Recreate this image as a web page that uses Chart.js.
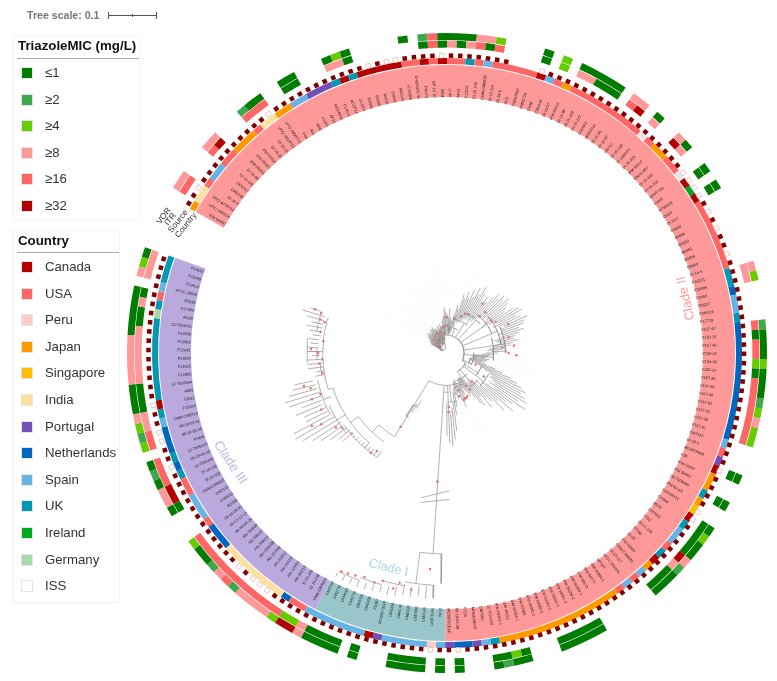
<!DOCTYPE html>
<html>
<head>
<meta charset="utf-8">
<title>Triazole MIC tree</title>
<script src="https://cdn.jsdelivr.net/npm/chart.js@4/dist/chart.umd.min.js"></script>
<style>
  html, body { margin: 0; padding: 0; background: #fff; }
  body { width: 777px; height: 681px; position: relative; overflow: hidden; font-family: "Liberation Sans", Arial, sans-serif; color: #333; }
  canvas { position: absolute; }
  #rings { left: 126px; top: 32px; }
  #tree { left: 0; top: 0; }
  .scale { position: absolute; left: 27px; top: 9px; font-size: 10.6px; font-weight: bold; color: #777; }
  .scalebar { position: absolute; left: 108px; top: 15px; width: 49px; height: 1px; background: #555; }
  .scalebar i { position: absolute; top: -3px; width: 1px; height: 7px; background: #555; }
  .legend { position: absolute; left: 13px; border: 1px solid #f4f4f4; box-sizing: border-box; }
  .legend h3 { margin: 0; position: absolute; left: 4px; font-size: 13.3px; font-weight: bold; color: #111; white-space: nowrap; }
  .legend hr { position: absolute; left: 3px; margin: 0; border: 0; height: 1px; background: #aaa; }
  .row { position: absolute; left: 31px; font-size: 13.2px; line-height: 16px; white-space: nowrap; }
  .row b { position: absolute; left: -23px; top: 3px; width: 10px; height: 10px; box-shadow: 0 0 0 1px #e4e4e4; }
</style>
</head>
<body>
<canvas id="rings" width="642" height="642"></canvas>
<canvas id="tree" width="777" height="681"></canvas>
<div class="scale">Tree scale: 0.1</div>
<div class="scalebar"><i style="left:0"></i><i style="left:24px;top:-1px;height:3px"></i><i style="left:48px"></i></div>
<div class="legend" id="micLegend" style="top:35px;width:127px;height:186px"></div>
<div class="legend" id="countryLegend" style="top:230px;width:107px;height:373px"></div>
<script>
const _ = null;
const leafCount = 196;

const micLabels = ['≤1', '≥2', '≥4', '≥8', '≥16', '≥32'];
const micValues = [1, 2, 4, 8, 16, 32];
const micColors = ['#007d00', '#3ea84a', '#66cc00', '#ff9999', '#ff6666', '#b30000'];

const countries = ['Canada', 'USA', 'Peru', 'Japan', 'Singapore', 'India', 'Portugal', 'Netherlands', 'Spain', 'UK', 'Ireland', 'Germany', 'ISS'];
const countryColors = ['#b30000', '#ff6666', '#ffcccc', '#ff9900', '#ffbf00', '#ffe0a0', '#7151b5', '#0066bf', '#66b3e6', '#0099b3', '#00aa22', '#a8d8a8', '#e8e8e8'];

const cladeRuns = [['Clade II', 135], ['Clade I', 15], ['Clade III', 46]];
const cladeColors = { 'Clade II': '#ff9999', 'Clade I': '#99c6cb', 'Clade III': '#b9a9dc' };

const countryRuns = [
  ['Japan',1],['India',2],['USA',1],['Spain',2],['USA',2],['Japan',3],['USA',1],['India',2],['Japan',2],['Spain',2],
  ['Portugal',3],['UK',1],['Canada',1],['UK',1],['Canada',5],['USA',2],['Canada',1],['USA',1],['Canada',1],['USA',2],
  ['UK',1],['USA',1],['Spain',1],['USA',5],['Canada',1],['Spain',1],['USA',1],['Japan',1],['USA',9],['ISS',1],
  ['USA',1],['Japan',2],['USA',2],['ISS',1],['Canada',1],['Ireland',1],['Canada',1],['USA',8],['UK',2],['Netherlands',1],
  ['Spain',2],['UK',1],['Netherlands',13],['Spain',1],['USA',1],['Portugal',1],['Canada',1],['Japan',2],['UK',1],['Japan',1],
  ['Singapore',1],['Canada',1],['UK',1],['Spain',2],['USA',1],['UK',1],['Canada',1],['Japan',1],['Spain',1],['USA',1],
  ['Spain',1],['USA',1],['Japan',14],['UK',1],['Spain',1],['Portugal',1],['Netherlands',2],['Portugal',1],['Spain',1],['Peru',1],
  ['Spain',5],['Portugal',1],['Canada',1],['Spain',7],['USA',2],['Netherlands',1],['India',8],['Netherlands',3],['USA',1],['Spain',3],
  ['USA',2],['UK',1],['Netherlands',1],['UK',1],['Netherlands',3],['Spain',1],['UK',1],['Canada',1],['UK',9],['Germany',1],
  ['UK',1],['USA',1],['Spain',1],['UK',3]
];

const vorMic = [
  _,8,8,_,_,_,8,8,_,_,
  _,2,1,1,_,_,1,1,_,_,
  _,1,4,1,_,_,_,_,_,1,
  _,2,16,1,1,1,1,8,8,4,
  _,_,_,_,1,_,4,_,1,1,
  1,1,1,_,8,8,_,1,_,_,
  8,1,_,_,1,_,1,_,_,_,
  _,_,_,_,_,8,4,_,_,_,
  _,2,1,1,1,4,1,1,1,2,
  4,8,4,4,_,_,_,1,_,_,
  1,_,_,1,4,1,1,8,2,1,
  1,1,_,_,_,_,_,_,1,1,
  1,1,1,_,_,_,1,1,2,1,
  _,_,_,1,_,1,_,1,1,1,
  1,_,_,_,1,_,1,1,1,1,
  8,32,32,4,8,8,8,8,2,16,
  8,2,1,1,4,_,_,_,1,8,
  8,1,2,1,_,4,2,4,8,1,
  1,1,8,8,8,8,8,1,1,1,
  1,1,_,8,4,1
];
const itrMic = [
  _,16,16,_,_,_,16,32,_,_,
  _,16,16,16,_,_,1,1,_,_,
  _,8,8,1,_,_,_,_,_,_,
  _,1,16,1,8,1,8,16,1,16,
  _,_,_,_,1,_,4,_,8,8,
  1,1,1,_,16,32,_,8,_,_,
  32,8,_,_,1,_,1,_,_,_,
  _,_,_,_,_,8,8,_,_,_,
  _,16,1,16,16,4,1,16,16,16,
  16,16,16,16,_,_,_,1,_,_,
  1,_,_,1,1,1,1,32,8,1,
  1,1,_,_,_,_,_,_,1,1,
  1,1,1,_,_,_,1,4,1,1,
  _,_,_,1,_,1,_,1,1,1,
  1,_,_,_,1,_,1,1,1,1,
  8,4,4,16,16,16,16,16,16,16,
  16,16,16,16,16,_,_,_,1,32,
  32,16,16,16,_,16,16,8,8,1,
  1,1,8,8,8,8,8,8,1,1,
  8,1,_,8,8,8
];

const sourceMissing = [42, 43, 44];
const sourceOpen = [3, 14, 26, 28, 29, 34, 45, 64, 65, 66, 67, 69, 71, 74, 98, 103, 104, 134, 137, 156, 157, 158, 160, 173, 176, 177, 180];

const leafLabels = [
  'IFM 59360','VPCI 180/224','VPCI 407/P/12','DI 16-9','CM5248','CM5757','DI 15-106','DI 15-98','IFM 59353','IFM 59355',
  'IFM 50318','DI 15-22','DI 15-31','VPCI 481/P/13','VPCI 480/P/13','Pd4','Af4','Af99','A1163','AF10',
  'MO54056','F14512','ACCP14','21J2F4','B1566','B1568','B5558','D6066','AL5006','IC19966',
  'D-6053/91-W','PKU73','BP-1C IO','0604','AF77','AF41','F11019','DI 15-130','CNM-CM8689','DI 15-114',
  'DI 34-8','SC5','TN55J5Sd','KN55T26','CK98','CM4448','DI 15-97','IFM 61610','DI 15-99','DI 15-129',
  'DI 15-127','CM7602','MO58722','DI 15-98','DI 15-97','Afu 50','DI 15-130','IF 1206-F4','DI 15-103','IFM 60514',
  'IFM 61407','DI 15-100','DI 15-101','NIH/T-011','CM65','AF90328','CM23','DI 16-7','B5863','B5864',
  'B5869','B5862','B5866','B5860','DI 16-5','F16221','F28085','P2465','CM237','CM6126',
  'F17729','V157-47','V130-15','V157-40','V130-04','V130-18','V130-14','V157-39','V157-80','V157-46',
  'V157-60','V157-62','V157-58','V157-61','CM7510','DI 15-6','MO5029850','P90','IFM 59056','IFM 58402',
  '08-7505898','IFM 62115','SGH08712','CY564','85/93','CM7632','TF52','05-21-105','TT763','15-33',
  'IFM 62916','CNM-CM8680','10-15-117','ATCC 204305','MF367','IFM 59056-1','IFM 59777','IFM 59573','IFM 59359-1','IFM 59359-2',
  'IFM 59361-2','IFM 59361-1','IFM 59362-2','IFM 59362-1','IFM 59360-2','IFM 59365','IFM 59363-1','IFM 49212','IFM 59364-1','12-7504062',
  'CM7580','MO6496EXP','P229','08-19-02-30','MOS6592EXP','TF53','LMS 35A4','CM4146','CM7586','CM2393',
  'CM4145','CM5395','MO5997/EXP','F5387','CM5498','CM3720','CM3726','CM4690','CM2733','CM2720',
  'CNM-CM8653','DI 15-108','SI 15-106','Afu 602/13','Afu 124/03','Afu 166/07','Afu 218/12','Afu 257/09','Afu 1042/08','Afu 584/12',
  'Afu 591/12','Afu 343/09','08-36-03-25','08-12-12-13','08-32-08-91','B5559','CM5419','CM2141','CNM-CM8652','DI 15-102',
  'DI 15-116','12-7505446','08-19-02-30','12-7505220','P3446','08-19-02-46','08-19-02-61','CNM-CM8714','F16216','CM21',
  'A865','12-7505054','F12805','F13535','F11628','F12041','F12892','F13036','12-7504652','Afs35',
  'F17582','B5233','ATCC 46645','F13619','F15295','F14532'
];

// branch depth of each tip, in distance from the tree centre
const tipFrom = [
  4,5,6,5,7,6,8,9,8,10, 9,11,8,12,10,11,9,13,10,9, 12,10,8,13,11,9,14,12,10,14,
  16,18,20,19,17,20,22,19,18,20, 22,28,26,34,32,36,33,38,36,40, 38,42,40,36,42,40,46,50,48,52,
  50,54,52,48,44,52,56,60,54,60, 64,60,60,56,60,58,50,52,54,50, 48,44,42,46,40,36,30,28,26,28,
  26,25,24,26,30,34,38,42,48,52, 50,54,58,52,60,50,46,54,42,48, 40,36,42,34,38,36,32,30,30,28,
  28,30,34,36,32,28,30,30,36,40, 50,56,62,60,52,
  204,236,237,238,240,238,242,244,245,246,247,247,248,248,249,
  55,60,62,120,121,122,122,123,123,124,124,125,128,125,126,128,128,130,130,134,
  134,134,136,135,134,134,136,136,138,125,124,125,126,128,128,128,130,130,130,128,
  128,128,128,128,128,134
];
const tipTo = [
  18,17,20,19,22,21,25,24,28,26, 25,27,24,28,26,29,27,30,27,25, 28,26,24,29,27,25,30,28,26,32,
  34,38,46,42,40,36,45,37,35,33, 40,50,46,62,58,66,60,70,63,74, 68,78,72,64,70,66,74,80,76,82,
  78,84,80,76,72,82,86,88,80,84, 90,86,84,78,82,76,72,70,74,68, 66,60,56,62,52,48,44,42,40,44,
  42,40,38,42,52,60,70,78,84,90, 86,92,96,88,98,84,78,90,72,82, 68,60,72,56,66,62,54,48,50,44,
  40,46,52,58,50,42,48,44,56,64, 80,88,95,92,84,
  234,249,250,248,250,250,252,253,252,253,254,254,254,254,253,
  64,70,76,127,127,127,127,127,127,127,127,127,137,140,147,155,162,170,176,175,
  158,158,165,156,168,171,165,160,157,135,133,141,141,141,136,138,141,138,141,136,
  140,144,140,146,152,145
];

// inner arcs: depth, first leaf, last leaf
const treeArcs = [
  [4,1,30],[8,4,20],[14,15,35],[18,49,100],[18,30,49],[26,36,49],[35,41,55],[45,50,62],[50,56,72],[56,62,80],[60,70,85],
  [48,75,90],[28,85,100],[25,92,100],[22,100,118],[38,96,106],[48,100,110],[42,108,116],[30,110,125],[36,118,128],[50,128,135],
  [33,118,153],[40,133,137],[60,132,135],
  [204,136,139.5],[236,137,141],[240,141,144],[244,144,147],[247,147,150],
  [62,151,153],[76,152,153.5],[100,153.3,159.4],[110,155,165.5],[120,158,176],[127,154,166],[125,176,195],[130,164,172],[133,170,179],
  [141,183.4,189],[128,180,183],[133,191,196],[131,184,187]
];
// stems: leaf, inner depth, outer depth
const treeStems = [
  [45,18,26],[52,18,35],[58,18,45],[65,18,50],[72,18,56],[80,18,60],[88,18,48],[98,18,28],[100,18,22],[103,22,38],[106,22,48],
  [113,22,42],[118,22,33],[123,33,36],[132,33,50],[134,33,60],[30,4,18],[137.4,33,204],[139.5,204,236],
  [153,33,100],[153.5,62,76],[159.4,100,110],[165.5,110,120],[158,120,127],[176,120,125],[168,120,130],[174,125,133],[186,125,141]
];
// two short slanted marks on the long stem: leaf, depth, leaf, depth
const breakMarks = [[140.7,149,134.6,140],[140.7,154,134.6,148.7]];
// support dots: leaf, depth
const treeNodes = [
  [5,8],[8,14],[10,18],[12,12],[14,16],[16,20],[18,13],[20,22],[22,17],[24,10],[26,22],[28,15],[30,26],[32,20],[33,27],[36,28],[38,24],
  [3,6],[7,11],[11,9],[15,13],[19,16],[23,20],[27,18],
  [41.8,36],[35,36],[47,40],[49,44],[51,45],[55,62],[59,57],[58,50],[65,56],[67,59],[71,69],[77,65],[82,57],[81.5,69],[85,63],[86,71],
  [97,32],[103,45],[112,39],[118,39],[117,44],[124,51],[122,50],[123,50],[121,49],[126,46],[125,40],[133.7,55],[134,60],[137.5,131],
  [153,88],[156,127],[155,122],[163,126],[165.6,130],[166.6,135],[169,146],[169.7,155],[172,139],[175,144],[175.5,134],[177.5,142],[178.3,148],
  [180.5,127],[183,129],[184,126],[185.6,130],[186.6,137],[188.7,125],[191,129],[193.6,127],[194,132],[195.6,133],[196,140],
  [137.7,220],[141.7,238],[142.4,245],[140,243],[144,240],[145,244],[146.5,242],[147.7,244],[148.7,245],[149.6,246]
];

const cladeNames = [
  { text: 'Clade II', leaf: 77.7, r: 249, rot: -103, size: 13, color: '#ff9999' },
  { text: 'Clade I', leaf: 143.7, r: 226, rot: 14, size: 12.8, color: '#a8dbe4' },
  { text: 'Clade III', leaf: 170.6, r: 245.5, rot: 56, size: 13.2, color: '#c3b6e6' }
];
const ringNames = [
  { text: 'VOR', r: 316, leaf: -0.5 },
  { text: 'ITR', r: 309, leaf: -0.73 },
  { text: 'Source', r: 300, leaf: 0.16 },
  { text: 'Country', r: 291, leaf: 0.33 }
];

const startAngle = 299.3;
const sweep = 350;
const step = sweep / leafCount;
const leafAngle = leaf => startAngle + (leaf - 0.5) * step;

function polar(leaf, depth) {
  const a = leafAngle(leaf) * Math.PI / 180;
  return { x: depth * Math.sin(a), y: depth * Math.cos(a) };
}

// ---- rings ----
function micColor(v) { return v === null ? 'rgba(0,0,0,0)' : micColors[micValues.indexOf(v)]; }

function runsFromLeaves(values, colorOf) {
  const data = [], colors = [];
  values.forEach(v => {
    const c = colorOf(v);
    if (colors.length && colors[colors.length - 1] === c) data[data.length - 1]++;
    else { data.push(1); colors.push(c); }
  });
  return { data, backgroundColor: colors };
}

function ring(weight, built) {
  return { weight, borderWidth: 0, data: built.data, backgroundColor: built.backgroundColor };
}

function spacer(weight) {
  return { weight, borderWidth: 0, data: [1], backgroundColor: ['rgba(0,0,0,0)'] };
}

new Chart(document.getElementById('rings'), {
  type: 'doughnut',
  data: {
    datasets: [
      spacer(1),
      ring(7, runsFromLeaves(vorMic, micColor)),
      spacer(0.6),
      ring(7, runsFromLeaves(itrMic, micColor)),
      spacer(10.4),
      ring(6, {
        data: countryRuns.map(r => r[1]),
        backgroundColor: countryRuns.map(r => countryColors[countries.indexOf(r[0])])
      }),
      spacer(1),
      ring(32, {
        data: cladeRuns.map(r => r[1]),
        backgroundColor: cladeRuns.map(r => cladeColors[r[0]])
      })
    ]
  },
  options: {
    responsive: false,
    animation: false,
    rotation: startAngle,
    circumference: sweep,
    cutout: (256 / 321 * 100) + '%',
    plugins: { legend: { display: false }, tooltip: { enabled: false } }
  }
});

// ---- tree, source squares and text ----
const gap = { x: NaN, y: NaN };
const branchPoints = [];
const guidePoints = [];

for (let i = 0; i < leafCount; i++) {
  branchPoints.push(polar(i + 1, tipFrom[i]), polar(i + 1, tipTo[i]), gap);
  guidePoints.push(polar(i + 1, tipTo[i]), polar(i + 1, 256), gap);
}
treeStems.forEach(s => branchPoints.push(polar(s[0], s[1]), polar(s[0], s[2]), gap));
breakMarks.forEach(m => branchPoints.push(polar(m[0], m[1]), polar(m[2], m[3]), gap));
treeArcs.forEach(arc => {
  for (let l = arc[1]; l < arc[2]; l += 0.5) branchPoints.push(polar(l, arc[0]));
  branchPoints.push(polar(arc[2], arc[0]), gap);
});

const sourceLeaves = [];
for (let l = 1; l <= leafCount; l++) if (!sourceMissing.includes(l)) sourceLeaves.push(l);

const treeText = {
  id: 'treeText',
  afterDatasetsDraw(chart) {
    const ctx = chart.ctx;
    const sx = chart.scales.x, sy = chart.scales.y;
    const put = (x, y, rot, text, align, font, color) => {
      ctx.save();
      ctx.translate(sx.getPixelForValue(x), sy.getPixelForValue(y));
      ctx.rotate(rot * Math.PI / 180);
      ctx.textAlign = align;
      ctx.textBaseline = 'middle';
      ctx.font = font;
      ctx.fillStyle = color;
      ctx.fillText(text, 0, 0);
      ctx.restore();
    };
    leafLabels.forEach((label, i) => {
      const a = leafAngle(i + 1) % 360;
      const p = polar(i + 1, 259);
      if (a < 180) put(p.x, p.y, a - 90, label, 'left', '3.9px "Liberation Sans"', '#222');
      else put(p.x, p.y, a + 90, label, 'right', '3.9px "Liberation Sans"', '#222');
    });
    cladeNames.forEach(c => {
      const p = polar(c.leaf, c.r);
      put(p.x, p.y, c.rot, c.text, 'center', c.size + 'px "Liberation Sans"', c.color);
    });
    ringNames.forEach(n => {
      const p = polar(n.leaf, n.r);
      put(p.x, p.y, -52, n.text, 'right', '8.4px "Liberation Sans"', '#333');
    });
  }
};

new Chart(document.getElementById('tree'), {
  type: 'scatter',
  data: {
    datasets: [
      {
        data: guidePoints, showLine: true, spanGaps: false, pointRadius: 0,
        borderColor: 'rgba(0,0,0,0.05)', borderWidth: 0.5, borderDash: [1, 3]
      },
      {
        data: branchPoints, showLine: true, spanGaps: false, pointRadius: 0,
        borderColor: '#909090', borderWidth: 0.7
      },
      {
        data: treeNodes.map(n => polar(n[0], n[1])), showLine: false,
        pointRadius: 1.3, pointBackgroundColor: '#ff6f6f', pointBorderWidth: 0
      },
      {
        data: sourceLeaves.map(l => polar(l, 301.5)), showLine: false,
        pointStyle: 'rect', pointRadius: 3.2,
        pointRotation: sourceLeaves.map(l => leafAngle(l)),
        pointBackgroundColor: sourceLeaves.map(l => sourceOpen.includes(l) ? '#fff' : '#800000'),
        pointBorderColor: sourceLeaves.map(l => sourceOpen.includes(l) ? '#e2b4b4' : '#800000'),
        pointBorderWidth: sourceLeaves.map(l => sourceOpen.includes(l) ? 0.8 : 0)
      }
    ]
  },
  options: {
    responsive: false,
    animation: false,
    layout: { padding: 0 },
    scales: {
      x: { type: 'linear', min: -447, max: 330, display: false },
      y: { type: 'linear', min: -328, max: 353, display: false }
    },
    plugins: { legend: { display: false }, tooltip: { enabled: false } }
  },
  plugins: [treeText]
});

// ---- legends ----
function fillLegend(id, title, labels, colors, titleTop, ruleTop, firstTop, ruleWidth) {
  const box = document.getElementById(id);
  let html = `<h3 style="top:${titleTop}px">${title}</h3><hr style="top:${ruleTop}px;width:${ruleWidth}px">`;
  labels.forEach((label, i) => {
    html += `<div class="row" style="top:${firstTop + i * 26.6}px"><b style="background:${colors[i]}"></b>${label}</div>`;
  });
  box.innerHTML = html;
}
fillLegend('micLegend', 'TriazoleMIC (mg/L)', micLabels, micColors, 2, 22, 29, 122);
fillLegend('countryLegend', 'Country', countries, countryColors.map((c, i) => i === 12 ? '#fff' : c), 2, 21, 28, 102);
</script>
</body>
</html>
